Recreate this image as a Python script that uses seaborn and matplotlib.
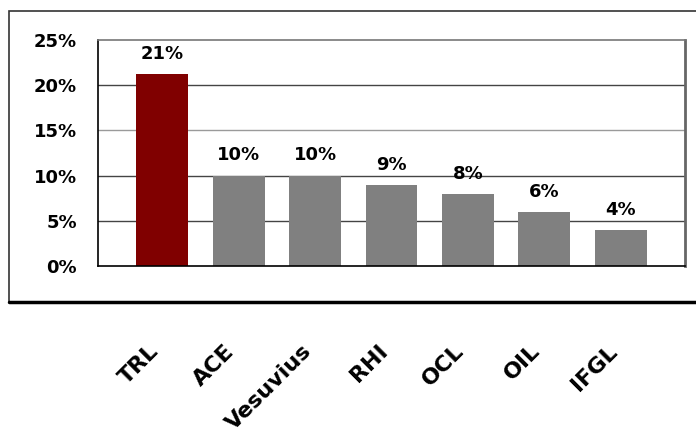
import matplotlib
matplotlib.use("Agg")
import matplotlib.pyplot as plt
import seaborn as sns
import pandas as pd
from matplotlib.patches import Rectangle
from matplotlib.lines import Line2D

companies = ["TRL", "ACE", "Vesuvius", "RHI", "OCL", "OIL", "IFGL"]
share = [21.2, 10, 10, 9, 8, 6, 4]
y_ticks = [0, 5, 10, 15, 20, 25]

highlight = "#800000"
others = "#808080"

sns.set_theme(style="white")
plt.rcParams["font.family"] = ["DejaVu Sans"]
plt.rcParams["text.color"] = "black"
plt.rcParams["xtick.color"] = "black"
plt.rcParams["ytick.color"] = "black"

df = pd.DataFrame({"company": companies, "share": share})
palette = {c: (highlight if c == "TRL" else others) for c in companies}

fig = plt.figure(figsize=(6.96, 4.38), dpi=100)
ax = fig.add_axes([98 / 696, 1 - 266 / 438, 587 / 696, 226 / 438])

sns.barplot(data=df, x="company", y="share", hue="company", palette=palette,
            order=companies, width=0.68, saturation=1, legend=False,
            linewidth=0, ax=ax)

ax.set_xlim(-0.84, len(companies) - 1 + 0.84)
ax.set_ylim(0, 25)
ax.set_yticks(y_ticks)
ax.set_yticklabels([f"{t}%" for t in y_ticks], fontsize=13, fontweight="bold")
ax.tick_params(axis="y", length=0, pad=15)
ax.tick_params(axis="x", length=0, pad=54)
plt.setp(ax.get_xticklabels(), rotation=45, ha="right", va="top",
         fontsize=16, fontweight="bold")
ax.set_xlabel("")
ax.set_ylabel("")

for t in y_ticks[1:-1]:
    ax.axhline(t, color="#9a9a9a" if t == 15 else "#444444", lw=1, zorder=0)

for side in ["left", "bottom"]:
    ax.spines[side].set_color("black")
    ax.spines[side].set_linewidth(1.2)
ax.spines["top"].set_color("#777777")
ax.spines["top"].set_linewidth(1.2)
ax.spines["right"].set_color("#666666")
ax.spines["right"].set_linewidth(2)

for i, v in enumerate(share):
    ax.annotate(f"{v:.0f}%", (i, v), xytext=(0, 8), textcoords="offset points",
                ha="center", va="bottom", fontsize=13, fontweight="bold")

# outer frame
fig.add_artist(Rectangle((9 / 696, 1 - 302 / 438), 1.0, 291 / 438,
                         transform=fig.transFigure, fill=False,
                         edgecolor="#333333", lw=1.2))
fig.add_artist(Line2D([9 / 696, 1], [1 - 302 / 438, 1 - 302 / 438],
                      transform=fig.transFigure, color="black", lw=2.5))

fig.savefig("out.png", dpi=100)
